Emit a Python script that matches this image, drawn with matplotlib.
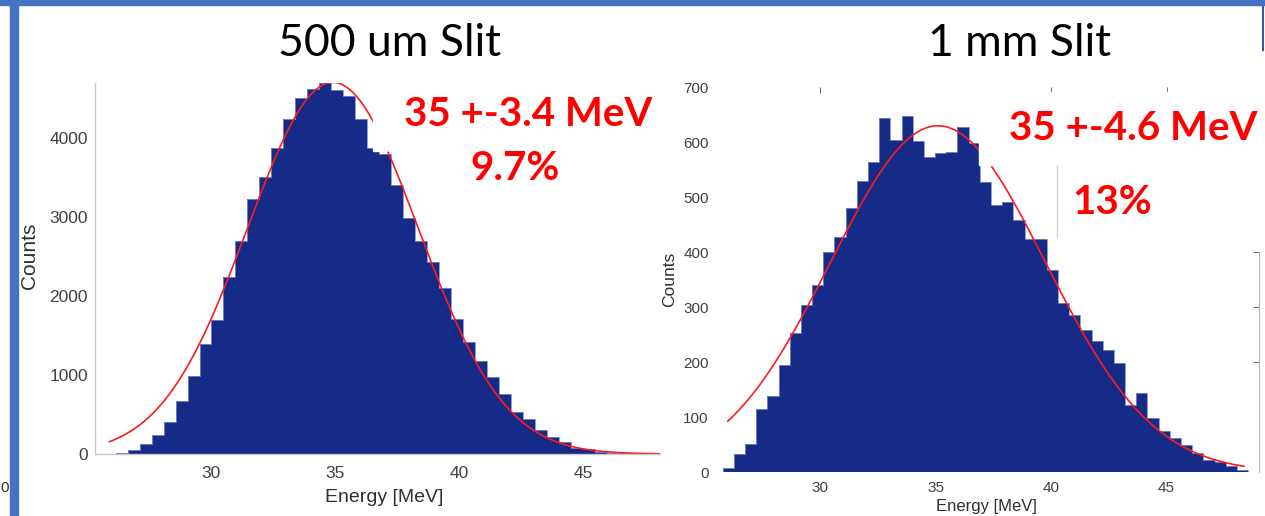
import matplotlib.pyplot as plt
from matplotlib.patches import Rectangle
import numpy as np

W, H = 1265, 516

# ---- data ----
# 500 um slit histogram (bin width ~0.483 MeV)
left_first_edge = 25.66
left_bin_width = 0.483
left_counts = [5, 15, 46, 122, 240, 405, 674, 982, 1395, 1699,
               2234, 2689, 3220, 3507, 3869, 4240, 4502, 4615, 4687, 4599,
               4523, 4240, 3870, 3789, 3401, 2980, 2698, 2432, 2095, 1703,
               1420, 1180, 978, 759, 527, 438, 303, 219, 148, 80,
               59, 30, 15, 8, 4]
# gaussian fit shown in red
left_fit_amp, left_fit_mu, left_fit_sigma = 4700, 34.9, 3.45
left_fit_range = (25.9, 48.1)

# 1 mm slit histogram (bin width ~0.484 MeV)
right_first_edge = 25.78
right_bin_width = 0.484
right_counts = [7, 33, 52, 115, 138, 195, 254, 305, 341, 401,
                427, 480, 530, 565, 645, 605, 647, 602, 573, 581,
                582, 628, 599, 528, 486, 492, 459, 425, 425, 368,
                307, 286, 259, 238, 222, 198, 122, 144, 98, 76,
                63, 50, 35, 22, 19, 12, 5]
right_fit_amp, right_fit_mu, right_fit_sigma = 630, 35.1, 4.65
right_fit_range = (26.0, 48.35)

titles = ["500 um Slit", "1 mm Slit"]
notes_left = ["35 +-3.4 MeV", "9.7%"]
notes_right = ["35 +-4.6 MeV", "13%"]

bar_color = "#162a88"
tick_grey = "#404040"


def box(x0, y0, x1, y1):
    # pixel box (top-left origin) -> figure fraction rect
    return [x0 / W, 1 - y1 / H, (x1 - x0) / W, (y1 - y0) / H]


def gauss(x, a, mu, s):
    return a * np.exp(-(x - mu) ** 2 / (2 * s ** 2))


def draw_hist(ax, first_edge, width, counts):
    edges = first_edge + width * np.arange(len(counts) + 1)
    ax.stairs(counts, edges, fill=True, color=bar_color)
    ax.stairs(counts, edges, color="#7f8cc8", lw=0.6)


fig = plt.figure(figsize=(W / 100, H / 100), dpi=100, facecolor="white")

# ---------------- left chart ----------------
ax1 = fig.add_axes(box(95, 83, 660, 454))
draw_hist(ax1, left_first_edge, left_bin_width, left_counts)
xf = np.linspace(*left_fit_range, 400)
ax1.plot(xf, gauss(xf, left_fit_amp, left_fit_mu, left_fit_sigma),
         color="#ff1a1a", lw=1.2)
ax1.set_xlim(25.31, 48.09)
ax1.set_ylim(0, 4692)
ax1.set_xticks([30, 35, 40, 45])
ax1.set_yticks([0, 1000, 2000, 3000, 4000])
for s in ["top", "right"]:
    ax1.spines[s].set_visible(False)
for s in ["left", "bottom"]:
    ax1.spines[s].set_color("#c8c8c8")
    ax1.spines[s].set_linewidth(1.0)
ax1.tick_params(axis="both", length=0, labelsize=12.5, colors=tick_grey,
                labelfontfamily="Liberation Sans")
ax1.tick_params(axis="x", pad=9)
ax1.tick_params(axis="y", pad=5)

# ---------------- right chart ----------------
ax2 = fig.add_axes(box(713, 87.3, 1259, 472.3))
draw_hist(ax2, right_first_edge, right_bin_width, right_counts)
xf = np.linspace(*right_fit_range, 400)
ax2.plot(xf, gauss(xf, right_fit_amp, right_fit_mu, right_fit_sigma),
         color="#ff1a1a", lw=1.2)
ax2.set_xlim(25.36, 49.0)
ax2.set_ylim(0, 700)
ax2.set_xticks([30, 35, 40, 45])
ax2.set_yticks(np.arange(0, 701, 100))
ax2.set_yticks([200, 300, 400, 500], minor=True)
for s in ["top", "left", "bottom"]:
    ax2.spines[s].set_visible(False)
ax2.spines["right"].set_color("#b8b8b8")
ax2.spines["right"].set_bounds(0, 400)
ax2.tick_params(axis="both", which="major", length=0, labelsize=11,
                colors=tick_grey, labelfontfamily="Liberation Sans")
ax2.tick_params(axis="x", pad=6)
ax2.tick_params(axis="y", pad=3)
ax2.tick_params(axis="y", which="minor", direction="in", length=4,
                color="#808080", left=True)
sec_top = ax2.secondary_xaxis("top")
sec_top.set_xticks([30, 40, 45])
sec_top.tick_params(direction="in", length=4, color="#707070", labeltop=False)
sec_top.spines["top"].set_visible(False)
sec_right = ax2.secondary_yaxis("right")
sec_right.set_yticks([200, 300, 400])
sec_right.tick_params(direction="in", length=4, color="#707070",
                      labelright=False)
sec_right.spines["right"].set_visible(False)

# white text-box overlays from the slide
fig.patches.append(Rectangle((373 / W, 1 - 151 / H), 14 / W, 68 / H,
                             transform=fig.transFigure, color="white",
                             zorder=5))
fig.patches.append(Rectangle((979 / W, 1 - 165 / H), 290 / W, 73 / H,
                             transform=fig.transFigure, color="white",
                             zorder=5))
fig.add_artist(plt.Line2D([1057 / W, 1057 / W], [1 - 165 / H, 1 - 238 / H],
                          color="#d4d4d4", lw=1, zorder=6))

# axis labels
lab = dict(family="Liberation Sans", color="#303030", ha="center", va="center")
fig.text(29 / W, 1 - 256 / H, "Counts", rotation=90, fontsize=15, **lab)
fig.text(384 / W, 1 - 498 / H, "Energy [MeV]", fontsize=14, **lab)
fig.text(670 / W, 1 - 279 / H, "Counts", rotation=90, fontsize=12.5, **lab)
fig.text(986 / W, 1 - 507 / H, "Energy [MeV]", fontsize=12, **lab)
fig.text(5 / W, 1 - 488 / H, "0", fontsize=11, **lab)

# titles
fig.text(390 / W, 1 - 44 / H, titles[0], fontsize=32, family="Lato",
         ha="center", va="center")
fig.text(1020 / W, 1 - 44 / H, titles[1], fontsize=32, family="Lato",
         ha="center", va="center")

# red annotations
red = dict(family="Lato", weight="bold", color="#ff0000", fontsize=29,
           ha="center", va="center", zorder=10)
fig.text(528 / W, 1 - 115 / H, notes_left[0], **red)
fig.text(515 / W, 1 - 169 / H, notes_left[1], **red)
fig.text(1133 / W, 1 - 129 / H, notes_right[0], **red)
fig.text(1112 / W, 1 - 203 / H, notes_right[1], **red)

# slide frame
fig.patches.append(Rectangle((0, 1 - 5 / H), 1, 5 / H,
                             transform=fig.transFigure, color="#4472c4",
                             zorder=7))
fig.patches.append(Rectangle((10 / W, 0), 8 / W, 1,
                             transform=fig.transFigure, color="#4472c4",
                             zorder=7))
fig.add_artist(plt.Line2D([1263 / W, 1263 / W], [1 - 5 / H, 1 - 50 / H],
                          color="#3a5a9c", lw=1.5, zorder=7))

fig.savefig("out.png", dpi=100, facecolor="white")
